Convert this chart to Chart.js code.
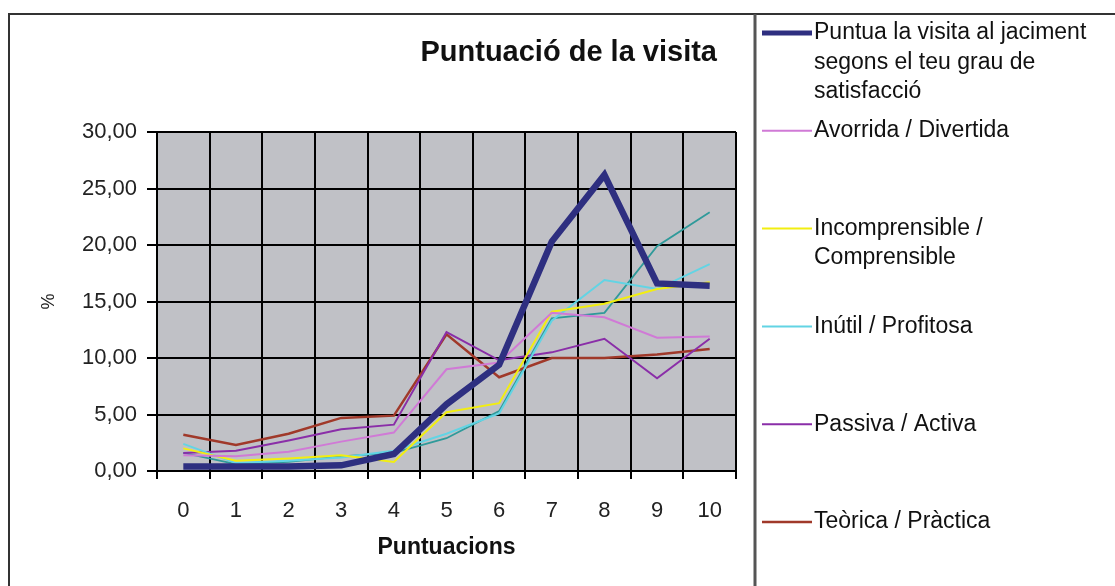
<!DOCTYPE html>
<html><head><meta charset="utf-8">
<script src="https://cdn.jsdelivr.net/npm/chart.js@4"></script>
<style>html,body{margin:0;padding:0;background:#fff;overflow:hidden}canvas{display:block}</style>
</head><body>
<canvas id="c" width="1115" height="586"></canvas>
<script>
const categories = ['0','1','2','3','4','5','6','7','8','9','10'];
const puntua        = [0.4, 0.4, 0.4, 0.5, 1.5, 5.9, 9.4, 20.3, 26.2, 16.6, 16.4];
const avorrida      = [1.4, 1.3, 1.7, 2.6, 3.4, 9.0, 9.6, 14.0, 13.6, 11.8, 11.9];
const incomprensible= [2.0, 0.9, 1.1, 1.4, 0.8, 5.2, 6.0, 14.1, 14.8, 16.1, 16.7];
const inutil        = [2.4, 0.7, 0.9, 1.2, 1.8, 3.3, 5.1, 13.3, 16.9, 16.1, 18.3];
const passiva       = [1.6, 1.8, 2.7, 3.7, 4.1, 12.3, 9.8, 10.5, 11.7, 8.2, 11.7];
const teorica       = [3.2, 2.3, 3.3, 4.7, 4.9, 12.1, 8.3, 10.0, 10.0, 10.3, 10.8];
const serie7        = [1.6, 0.6, 0.8, 1.3, 1.6, 2.9, 5.3, 13.5, 14.0, 19.9, 22.9];
const seriesNames = [
  'Puntua la visita al jaciment segons el teu grau de satisfacció',
  'Avorrida / Divertida',
  'Incomprensible / Comprensible',
  'Inútil / Profitosa',
  'Passiva / Activa',
  'Teòrica / Pràctica',
  'Sèrie 7'
];
const yTickValues = [0, 5, 10, 15, 20, 25, 30];
const titleText = 'Puntuació de la visita';
const xTitle = 'Puntuacions';
const yTitle = '%';

const FONT = '"Liberation Sans", Arial, sans-serif';

function wrapText(ctx, text, maxW) {
  const words = text.split(' ');
  const lines = [];
  let cur = '';
  for (const w of words) {
    const t = cur ? cur + ' ' + w : w;
    if (ctx.measureText(t).width > maxW && cur) { lines.push(cur); cur = w; }
    else cur = t;
  }
  if (cur) lines.push(cur);
  return lines;
}

const framePlugin = {
  id: 'frame',
  beforeDraw(chart) {
    const ctx = chart.ctx, a = chart.chartArea;
    ctx.save();
    ctx.fillStyle = '#fff';
    ctx.fillRect(0, 0, chart.width, chart.height);
    ctx.fillStyle = '#c0c1c6';
    ctx.fillRect(a.left, a.top, a.right - a.left, a.bottom - a.top);
    ctx.strokeStyle = '#333';
    ctx.lineWidth = 2;
    ctx.beginPath();
    ctx.moveTo(9, 600); ctx.lineTo(9, 14); ctx.lineTo(1115, 14);
    ctx.stroke();
    ctx.strokeStyle = '#555';
    ctx.lineWidth = 3;
    ctx.beginPath();
    ctx.moveTo(755, 14); ctx.lineTo(755, 600);
    ctx.stroke();
    ctx.restore();
  },
  afterDraw(chart) {
    const ctx = chart.ctx;
    ctx.save();
    // title
    ctx.font = 'bold 29px ' + FONT;
    ctx.fillStyle = '#111';
    ctx.textAlign = 'right';
    ctx.textBaseline = 'middle';
    ctx.fillText(titleText, 717, 53);
    // legend
    ctx.font = '23px ' + FONT;
    ctx.textAlign = 'left';
    let i = 0;
    chart.data.datasets.forEach(ds => {
      if (ds.inLegend === false) return;
      const y0 = 33 + i * 97.8;
      ctx.strokeStyle = ds.borderColor;
      ctx.lineWidth = Math.min(ds.borderWidth, 5);
      ctx.beginPath(); ctx.moveTo(762, y0); ctx.lineTo(812, y0); ctx.stroke();
      const lines = wrapText(ctx, ds.label, 295);
      ctx.fillStyle = '#111';
      lines.forEach((l, k) => ctx.fillText(l, 814, y0 + k * 29.5));
      i++;
    });
    ctx.restore();
  }
};

const mk = (label, data, color, width, inLegend = true) => ({
  label, data, borderColor: color, backgroundColor: color, borderWidth: width,
  pointRadius: 0, tension: 0, fill: false, borderJoinStyle: 'miter', inLegend
});

new Chart(document.getElementById('c'), {
  type: 'line',
  data: {
    labels: categories,
    datasets: [
      mk(seriesNames[0], puntua, '#2e2f80', 6.5),
      mk(seriesNames[1], avorrida, '#d07ad6', 2),
      mk(seriesNames[2], incomprensible, '#f2ee10', 2),
      mk(seriesNames[3], inutil, '#62d4e4', 2),
      mk(seriesNames[4], passiva, '#8a2ea8', 2),
      mk(seriesNames[5], teorica, '#a0392a', 2.5),
      mk(seriesNames[6], serie7, '#2f9a9a', 1.8, false)
    ]
  },
  options: {
    responsive: false,
    animation: false,
    devicePixelRatio: 1,
    layout: { padding: { left: 0, top: 132, right: 379, bottom: 0 } },
    plugins: { legend: { display: false }, tooltip: { enabled: false }, title: { display: false } },
    scales: {
      x: {
        type: 'category',
        offset: true,
        grid: { offset: true, color: '#000', lineWidth: 2, tickLength: 8 },
        border: { color: '#000', width: 2 },
        ticks: { font: { size: 22, family: FONT }, color: '#222', padding: 19, maxRotation: 0, autoSkip: false },
        title: { display: true, text: xTitle, font: { size: 23, weight: 'bold', family: FONT }, color: '#111', padding: { top: 0, bottom: 25 } },
        afterFit(scale) { scale.height = 115; }
      },
      y: {
        min: 0, max: 30,
        afterBuildTicks(scale) { scale.ticks = yTickValues.map(v => ({ value: v })); },
        grid: { color: '#000', lineWidth: 2, tickLength: 10 },
        border: { color: '#000', width: 2 },
        ticks: { font: { size: 22, family: FONT }, color: '#222', padding: 10,
                 callback: v => Number(v).toFixed(2).replace('.', ',') },
        title: { display: true, text: yTitle, font: { size: 18, family: FONT }, color: '#222', padding: { top: 38, bottom: 0 } },
        afterFit(scale) { scale.width = 157; }
      }
    }
  },
  plugins: [framePlugin]
});
</script>
</body></html>
